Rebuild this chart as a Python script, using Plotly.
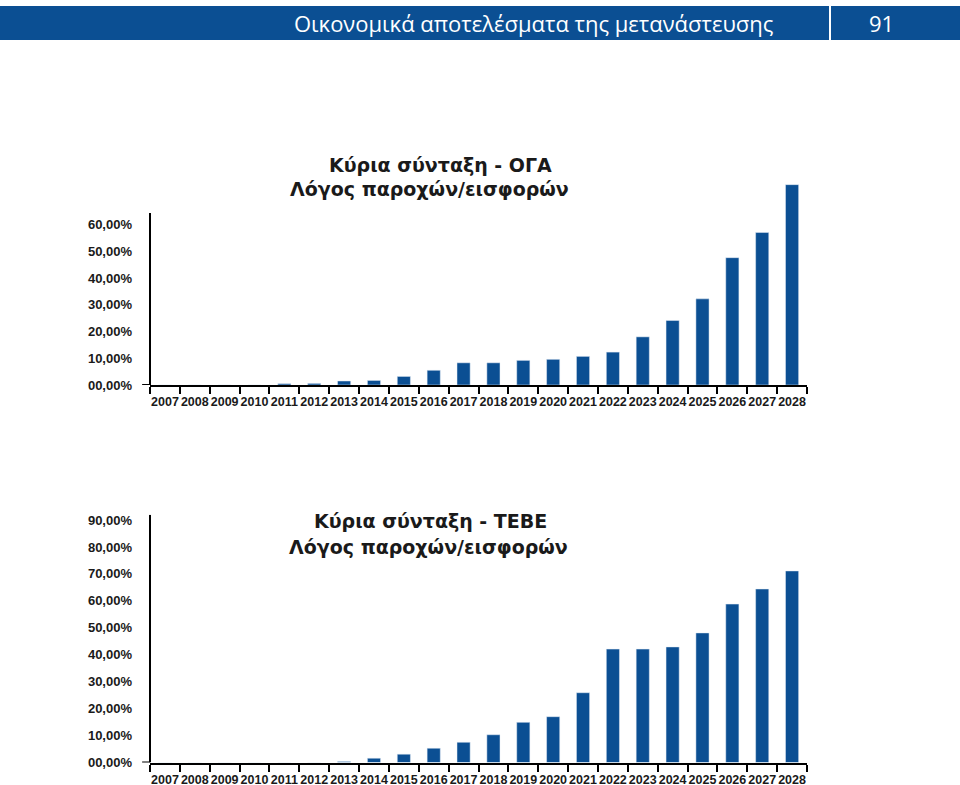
import plotly.graph_objects as go

W, H = 960, 785

years = ["2007", "2008", "2009", "2010", "2011", "2012", "2013", "2014", "2015", "2016", "2017",
         "2018", "2019", "2020", "2021", "2022", "2023", "2024", "2025", "2026", "2027", "2028"]

oga_ratio = [0, 0, 0, 0, 0.5, 0.6, 1.5, 1.7, 3.2, 5.5, 8.3, 8.3, 9.2, 9.6, 10.7, 12.3,
             18.0, 24.1, 32.2, 47.6, 57.0, 74.9]

tebe_ratio = [0, 0, 0, 0, 0, 0, 0.4, 1.6, 3.1, 5.3, 7.5, 10.3, 14.9, 17.0, 25.9, 42.1,
              42.1, 42.9, 48.1, 58.8, 64.4, 71.1]

oga_ticks = [0, 10, 20, 30, 40, 50, 60]
oga_ticktext = ["00,00%", "10,00%", "20,00%", "30,00%", "40,00%", "50,00%", "60,00%"]
tebe_ticks = [0, 10, 20, 30, 40, 50, 60, 70, 80, 90]
tebe_ticktext = ["00,00%", "10,00%", "20,00%", "30,00%", "40,00%", "50,00%", "60,00%",
                 "70,00%", "80,00%", "90,00%"]

header_title = "Οικονομικά αποτελέσματα της μετανάστευσης"
page_number = "91"
oga_title = ["Κύρια σύνταξη - ΟΓΑ", "Λόγος παροχών/εισφορών"]
tebe_title = ["Κύρια σύνταξη - ΤΕΒΕ", "Λόγος παροχών/εισφορών"]

BLUE = "#0b4f93"
INK = "#1a1a1a"

def px_x(p):
    return p / W

def px_y(p):
    return 1 - p / H

fig = go.Figure()
fig.add_trace(go.Bar(x=years, y=oga_ratio, marker_color=BLUE, xaxis="x", yaxis="y",
                     showlegend=False, hoverinfo="x+y"))
fig.add_trace(go.Bar(x=years, y=tebe_ratio, marker_color=BLUE, xaxis="x2", yaxis="y2",
                     showlegend=False, hoverinfo="x+y"))

xfont = dict(family="Liberation Sans, Arial, sans-serif", size=12.5, color=INK, weight="bold")
yfont = dict(family="Liberation Sans, Arial, sans-serif", size=13, color=INK, weight="bold")

xcommon = dict(type="category", tickson="boundaries", ticks="outside", ticklen=7, tickwidth=2,
               tickcolor="black", showline=True, linecolor="black", linewidth=2,
               showgrid=False, zeroline=False, tickfont=xfont, tickangle=0,
               ticklabelstandoff=4, automargin=False, fixedrange=True)
ycommon = dict(showgrid=False, zeroline=False, showline=False, ticks="",
               ticklabelstandoff=17, tickfont=yfont, automargin=False, fixedrange=True)

top_range = 76
top_base = 385
top_top = top_base - top_range * 2.675
bot_range = 92
bot_base = 762.5
bot_top = bot_base - bot_range * 2.694

fig.update_layout(
    width=W, height=H, autosize=False,
    margin=dict(l=0, r=0, t=0, b=0, pad=0),
    paper_bgcolor="white", plot_bgcolor="white",
    bargap=0.56,
    xaxis=dict(domain=[px_x(150), px_x(807)], anchor="y", **xcommon),
    yaxis=dict(domain=[px_y(top_base), px_y(top_top)], anchor="x", range=[0, top_range],
               tickvals=oga_ticks, ticktext=oga_ticktext, **ycommon),
    xaxis2=dict(domain=[px_x(150), px_x(807)], anchor="y2", **xcommon),
    yaxis2=dict(domain=[px_y(bot_base), px_y(bot_top)], anchor="x2", range=[0, bot_range],
                tickvals=tebe_ticks, ticktext=tebe_ticktext, **ycommon),
)

shapes = []
# header band
shapes.append(dict(type="rect", xref="paper", yref="paper", x0=0, x1=1,
                   y0=px_y(40), y1=px_y(6), fillcolor=BLUE, line_width=0, layer="below"))
shapes.append(dict(type="line", xref="paper", yref="paper", x0=px_x(830), x1=px_x(830),
                   y0=px_y(40), y1=px_y(6), line=dict(color="white", width=2)))
# y axis lines
shapes.append(dict(type="line", xref="x domain", yref="y", x0=0, x1=0, y0=0, y1=64.3,
                   line=dict(color="black", width=2)))
shapes.append(dict(type="line", xref="x2 domain", yref="y2", x0=0, x1=0, y0=0, y1=92,
                   line=dict(color="black", width=2)))
# small stub of the x axis left of the y axis
shapes.append(dict(type="line", xref="x domain", yref="y", x0=-0.012, x1=0, y0=0, y1=0,
                   line=dict(color="black", width=2)))
shapes.append(dict(type="line", xref="x2 domain", yref="y2", x0=-0.012, x1=0, y0=0, y1=0,
                   line=dict(color="black", width=2)))
fig.update_layout(shapes=shapes)

title_font = dict(family="DejaVu Sans, Verdana, sans-serif", size=19, color=INK, weight="bold")
head_font = dict(family="Open Sans, Noto Sans, sans-serif", size=22, color="white")

annotations = [
    dict(text=header_title, xref="paper", yref="paper", x=px_x(776), y=px_y(23),
         xanchor="right", yanchor="middle", showarrow=False, font=head_font),
    dict(text=page_number, xref="paper", yref="paper", x=px_x(881), y=px_y(23),
         xanchor="center", yanchor="middle", showarrow=False, font=head_font),
    dict(text=oga_title[0], xref="paper", yref="paper", x=px_x(440), y=px_y(165),
         xanchor="center", yanchor="middle", showarrow=False, font=title_font),
    dict(text=oga_title[1], xref="paper", yref="paper", x=px_x(429), y=px_y(189),
         xanchor="center", yanchor="middle", showarrow=False, font=title_font),
    dict(text=tebe_title[0], xref="paper", yref="paper", x=px_x(430), y=px_y(521),
         xanchor="center", yanchor="middle", showarrow=False, font=title_font),
    dict(text=tebe_title[1], xref="paper", yref="paper", x=px_x(428), y=px_y(547),
         xanchor="center", yanchor="middle", showarrow=False, font=title_font),
]
fig.update_layout(annotations=annotations)

fig.write_html("out.html", config={"displayModeBar": False},
               post_script="document.body.style.margin='0';document.body.style.overflow='hidden';")
